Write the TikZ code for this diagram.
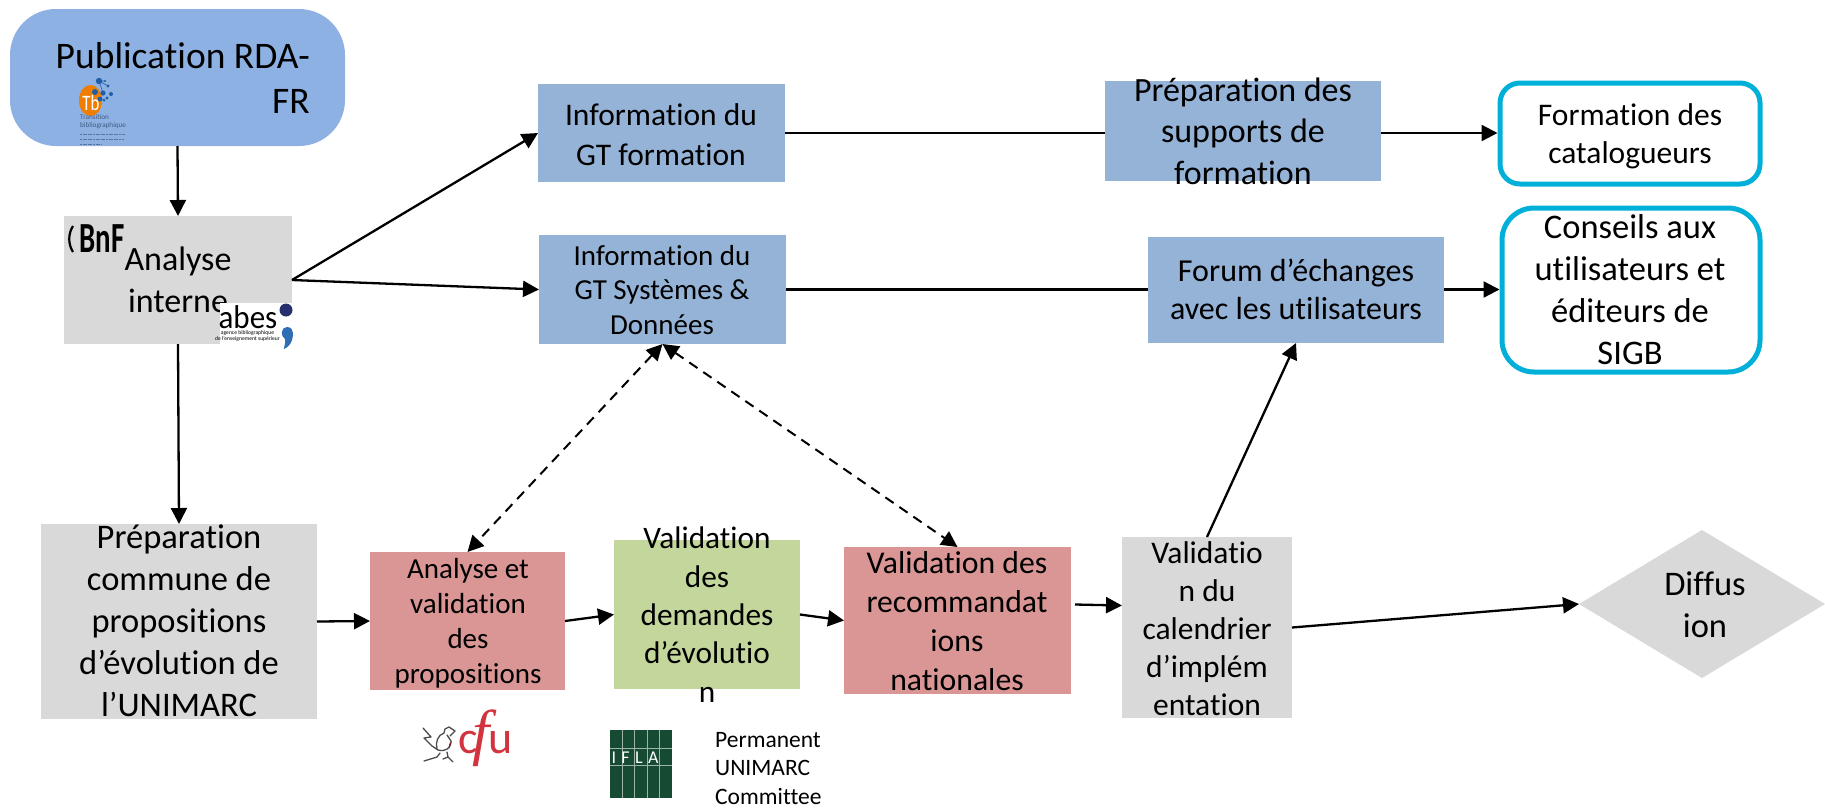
\documentclass[tikz,border=0pt]{standalone}
\usepackage{fontspec}
\usepackage{graphicx}
\setmainfont{Carlito}[Ligatures=NoCommon]
\newfontfamily\cfuswash{Liberation Serif}
\usetikzlibrary{arrows.meta,calc,shapes.geometric}
\definecolor{pubblue}{HTML}{8DB1E3}
\definecolor{boxblue}{HTML}{95B3D7}
\definecolor{boxgray}{HTML}{D9D9D9}
\definecolor{boxred}{HTML}{D99694}
\definecolor{boxgreen}{HTML}{C3D69B}
\definecolor{ringblue}{HTML}{00B0D8}
\definecolor{iflagreen}{HTML}{174A32}
\definecolor{iflagrid}{HTML}{9DB5A8}
\definecolor{cfured}{HTML}{D1343F}
\definecolor{tborange}{HTML}{EE7D00}
\definecolor{tbblue}{HTML}{1F5FA8}
\definecolor{tbgrey}{HTML}{3F5C85}
\definecolor{abesnavy}{HTML}{27306F}
\definecolor{abesblue}{HTML}{2F6DB5}
\tikzset{
  x=1pt,y=-1pt,
  box/.style={draw=none,inner sep=0pt,outer sep=0pt,rectangle},
  ring/.style={draw=ringblue,fill=white,line width=5pt,rounded corners=#1,rectangle,inner sep=0pt,outer sep=2.5pt},
  txt/.style 2 args={align=center,anchor=base,inner sep=0pt,font=\fontsize{#1}{#2}\selectfont},
  flow/.style={line width=2.3pt,-{Triangle[length=16pt,width=16pt]}},
  plain/.style={line width=2.3pt},
  both/.style={line width=2pt,dash pattern=on 10pt off 7pt,{Triangle[length=16pt,width=16pt]}-{Triangle[length=16pt,width=16pt]}},
  tbdot/.style={fill=tbblue,draw=none},
  fine/.style={draw=tbgrey,draw opacity=0.7,line width=0.9pt,dash pattern=on 2pt off 0.6pt},
}
\newcommand{\boxat}[7]{\node[box,fill=#2,minimum width=#5pt-#3pt,minimum height=#6pt-#4pt] (#1) at ({(#3+#5)/2},{(#4+#6)/2}) {};}
\begin{document}
\begin{tikzpicture}
\useasboundingbox (0,0) rectangle (1825,807);
% boxes
\node[box,fill=pubblue,rounded corners=46pt,minimum width=335pt,minimum height=137pt] (pub) at (177.5,77.5) {};
\boxat{ana}{boxgray}{64}{216}{292}{344}{}
\boxat{gtf}{boxblue}{538}{84}{785}{182}{}
\boxat{gts}{boxblue}{539}{235}{786}{344}{}
\boxat{sup}{boxblue}{1105}{81}{1381}{181}{}
\boxat{forum}{boxblue}{1148}{237}{1444}{343}{}
\node[ring=20pt,minimum width=260pt,minimum height=101pt] (cat) at (1630,133.5) {};
\node[ring=32pt,minimum width=258pt,minimum height=164pt] (sigb) at (1631,290) {};
\boxat{com}{boxgray}{41}{524}{317}{719}{}
\boxat{av}{boxred}{370}{552}{565}{690}{}
\boxat{dem}{boxgreen}{614}{540}{800}{689}{}
\boxat{rec}{boxred}{844}{547}{1071}{694}{}
\boxat{cal}{boxgray}{1122}{537}{1292}{718}{}
\node[diamond,fill=boxgray,inner sep=0pt,outer sep=0pt,minimum width=246pt,minimum height=148pt,aspect=1.66] (dif) at (1702,604) {};
% connectors
\draw[flow] (pub.south) -- (ana.north);
\draw[flow] (ana.east) -- (gtf.west);
\draw[flow] (ana.east) -- (gts.west);
\draw[plain] (gtf.east) -- (gtf.east -| sup.west);
\draw[flow] (gtf.east -| sup.east) -- (gtf.east -| cat.west);
\draw[plain] (gts.east) -- (gts.east -| forum.west);
\draw[flow] (gts.east -| forum.east) -- (gts.east -| sigb.west);
\draw[flow] (ana.south) -- (com.north);
\draw[flow] (com.east) -- (av.west);
\draw[flow] (av.east) -- (dem.west);
\draw[flow] (dem.east) -- (rec.west);
\draw[flow] ([yshift=16pt,xshift=4pt]rec.east) -- ([yshift=22pt]cal.west);
\draw[flow] (cal.east) -- (dif.west);
\draw[flow] (cal.north) -- (forum.south);
\draw[both] (gts.south) -- (av.north);
\draw[both] (gts.south) -- (rec.north);
% texts
\node[txt={37.5}{45},align=right,anchor=base east] (tpub) at (310,113) {Publication RDA-\\FR};
\node[txt={34}{42}] (tana) at (178,312) {Analyse\\interne};
\node[txt={31.5}{40}] (tgtf) at (661,165) {Information du\\GT formation};
\node[txt={29}{34.5}] (tgts) at (662,334) {Information du\\GT Systèmes \&\\Données};
\node[txt={34}{41.5}] (tsup) at (1243,184) {Préparation des\\supports de\\formation};
\node[txt={31.5}{38}] (tcat) at (1630,163) {Formation des\\catalogueurs};
\node[txt={32}{37.5}] (tforum) at (1296,319) {Forum d’échanges\\avec les utilisateurs};
\node[txt={34.5}{42}] (tsigb) at (1630,364) {Conseils aux\\utilisateurs et\\éditeurs de\\SIGB};
\node[txt={34.5}{42}] (tcom) at (179,716) {Préparation\\commune de\\propositions\\d’évolution de\\l’UNIMARC};
\node[txt={29}{35}] (tav) at (468,683) {Analyse et\\validation\\des\\propositions};
\node[txt={31.3}{38.3}] (tdem) at (707,702) {Validation\\des\\demandes\\d’évolutio\\n};
\node[txt={31.7}{39}] (trec) at (957,690) {Validation des\\recommandat\\ions\\nationales};
\node[txt={31.5}{38}] (tcal) at (1207,715) {Validatio\\n du\\calendrier\\d’implém\\entation};
\node[txt={34.5}{42}] (tdif) at (1705,637) {Diffus\\ion};
\node[txt={23.5}{28.5},align=left,anchor=base west] (tpum) at (715,804) {Permanent\\UNIMARC\\Committee};
% Tb logo
\fill[tborange] (90.5,100.5) ellipse [x radius=11.5,y radius=15.5];
\node[txt={21}{21},text=white] (ttb) at (91,110) {\scalebox{0.8}[1.05]{Tb}};
\draw[tbblue,line width=0.6pt] (99,81) -- (105,81) (99,81) -- (108,86) (99,81) -- (103,93);
\fill[tbdot] (99,81) circle (3.2) (105,81) circle (1.1) (95,92) circle (3) (103,93) circle (2.6)
  (108,86) circle (1.6) (111,94) circle (2) (107,98) circle (1.6) (100,99) circle (2.4) (104,100) circle (1.5);
\node[txt={7.2}{8},align=left,anchor=base west,text=tbgrey] (ttrans) at (80,127) {Transition\\bibliographique};
\draw[fine] (80,134) -- (125,134) (80,139) -- (124,139) (80,144) -- (101,144);
% BnF logo
\draw[black,line width=2.2pt] (73,226) .. controls (68,234) and (68,244) .. (73,252);
\node[txt={37}{37}] (tbnf) at (102,252) {\scalebox{0.78}[1.16]{\bfseries BnF}};
% abes logo
\node[box,fill=white,minimum width=73pt,minimum height=47pt] (abesbg) at (256.5,326.5) {};
\node[txt={33}{33}] (tabes) at (248,328) {\scalebox{0.94}[1]{abes}};
\node[txt={5.6}{5.6}] (tabes2) at (247.5,340) {agence bibliographique\\de l’enseignement supérieur};
\fill[abesnavy] (286,310) circle (6.5);
\fill[abesblue] (293,333) .. controls (293,342) and (289,347) .. (284,349) .. controls (284,345) and (286,343) .. (285,339) .. controls (280,336) and (281,327) .. (287,327) .. controls (291,327) and (293,330) .. (293,333) -- cycle;
% cfu logo
\node[txt={46}{46},text=cfured,anchor=base west] (tcfu) at (458,753) {c\kern-5pt{\cfuswash\itshape\fontsize{62}{62}\selectfont f}\kern-1pt u};
\draw[black!70,line width=1.3pt,line join=round,line cap=round]
  (423,728) -- (431,737) -- (424,738) -- (432,746) -- (438,750) .. controls (446,752) and (451,748) .. (451,741) -- (447,735)
  (437,749) .. controls (435,742) and (438,735) .. (444,733) -- (445,729) -- (449,727) -- (455,731) -- (450,736)
  (440,753) -- (437,757) -- (424,761) (447,752) -- (448,757) -- (443,759) (448,757) -- (453,762);
\fill[cfured!70!black] (449,744) -- (452,741) -- (449,749) -- cycle;
% IFLA logo
\fill[iflagreen] (610,730) rectangle (672,798);
\draw[iflagrid,line width=1pt] (622,730) -- (622,798) (634,730) -- (634,798) (647,730) -- (647,798) (659,730) -- (659,798)
  (610,748) -- (672,748) (610,765) -- (672,765);
\node[txt={18}{18},text=white,anchor=base] (tifla) at (635,763) {\addfontfeature{LetterSpace=30}IFLA};
\end{tikzpicture}
\end{document}
